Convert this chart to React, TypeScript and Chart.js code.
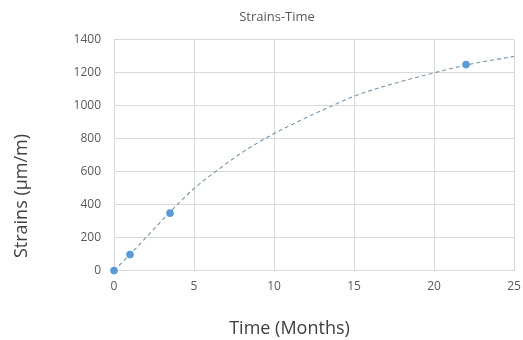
import React, { useEffect, useRef } from "react";
import { Chart, registerables } from "chart.js";

Chart.register(...registerables);

const chartTitle = "Strains-Time";
const xTitle = "Time (Months)";
const yTitle = "Strains (μm/m)";

const timeMonths = [0, 1, 3.5, 22];
const strains = [0, 97, 348, 1248];

const trendX = [0, 1, 2, 3.5, 5, 6.6, 8, 10, 12, 13.5, 15, 16.6, 18, 20, 22, 25];
const trendY = [0, 98, 200, 355, 497, 618, 715, 830, 926, 993, 1056, 1108, 1147, 1198, 1245, 1298];

const xTicks = [0, 5, 10, 15, 20, 25];
const yTicks = [0, 200, 400, 600, 800, 1000, 1200, 1400];

const FONT = "'Open Sans', 'Noto Sans', sans-serif";

const titlesPlugin = {
  id: "excelTitles",
  afterDraw(chart: any) {
    const ctx = chart.ctx;
    ctx.save();
    ctx.fillStyle = "#595959";
    ctx.font = `13px ${FONT}`;
    ctx.textAlign = "center";
    ctx.textBaseline = "middle";
    ctx.fillText(chartTitle, 277, 17);

    ctx.fillStyle = "#404040";
    ctx.font = `18px ${FONT}`;
    ctx.fillText(xTitle, 289.5, 329);

    ctx.translate(22, 196);
    ctx.rotate(-Math.PI / 2);
    ctx.fillText(yTitle, 0, 0);
    ctx.restore();
  },
};

export default function App() {
  const canvasRef = useRef<HTMLCanvasElement | null>(null);

  useEffect(() => {
    if (!canvasRef.current) return;
    const chart = new Chart(canvasRef.current, {
      type: "scatter",
      data: {
        datasets: [
          {
            type: "scatter",
            label: "Strains",
            data: timeMonths.map((x, i) => ({ x, y: strains[i] })),
            backgroundColor: "#5b9bd5",
            borderColor: "#5b9bd5",
            pointRadius: 3.8,
            pointBorderWidth: 0,
            clip: false,
            order: 0,
          } as any,
          {
            type: "line",
            label: "Trend",
            data: trendX.map((x, i) => ({ x, y: trendY[i] })),
            borderColor: "#7896ad",
            borderWidth: 1.1,
            borderDash: [4, 3],
            pointRadius: 0,
            fill: false,
            cubicInterpolationMode: "monotone",
            order: 1,
          } as any,
        ],
      },
      options: {
        responsive: false,
        animation: false,
        layout: { padding: { top: 39.5, right: 9, left: 0, bottom: 0 } },
        plugins: {
          legend: { display: false },
          title: { display: false },
          tooltip: { enabled: false },
        },
        scales: {
          x: {
            type: "linear",
            min: 0,
            max: 25,
            afterBuildTicks: (scale: any) => {
              scale.ticks = xTicks.map((v) => ({ value: v }));
            },
            afterFit: (scale: any) => {
              scale.height = 69.4;
              scale.paddingLeft = 0;
              scale.paddingRight = 0;
            },
            grid: { color: "#d9d9d9", drawTicks: false, lineWidth: 1 },
            border: { color: "#d9d9d9" },
            ticks: {
              padding: 9,
              color: "#595959",
              font: { family: FONT, size: 12 },
              maxRotation: 0,
              callback: (v: any) => String(v),
            },
          },
          y: {
            type: "linear",
            min: 0,
            max: 1400,
            afterBuildTicks: (scale: any) => {
              scale.ticks = yTicks.map((v) => ({ value: v }));
            },
            afterFit: (scale: any) => {
              scale.width = 114;
              scale.paddingTop = 0;
              scale.paddingBottom = 0;
            },
            grid: { color: "#d9d9d9", drawTicks: false, lineWidth: 1 },
            border: { color: "#d9d9d9" },
            ticks: {
              padding: 13,
              color: "#595959",
              font: { family: FONT, size: 12 },
              callback: (v: any) => String(v),
            },
          },
        },
      },
      plugins: [titlesPlugin],
    });
    return () => chart.destroy();
  }, []);

  return (
    <div style={{ position: "absolute", left: 0, top: 0, width: 523, height: 340, background: "#fff" }}>
      <canvas ref={canvasRef} width={523} height={340} style={{ display: "block" }} />
    </div>
  );
}
